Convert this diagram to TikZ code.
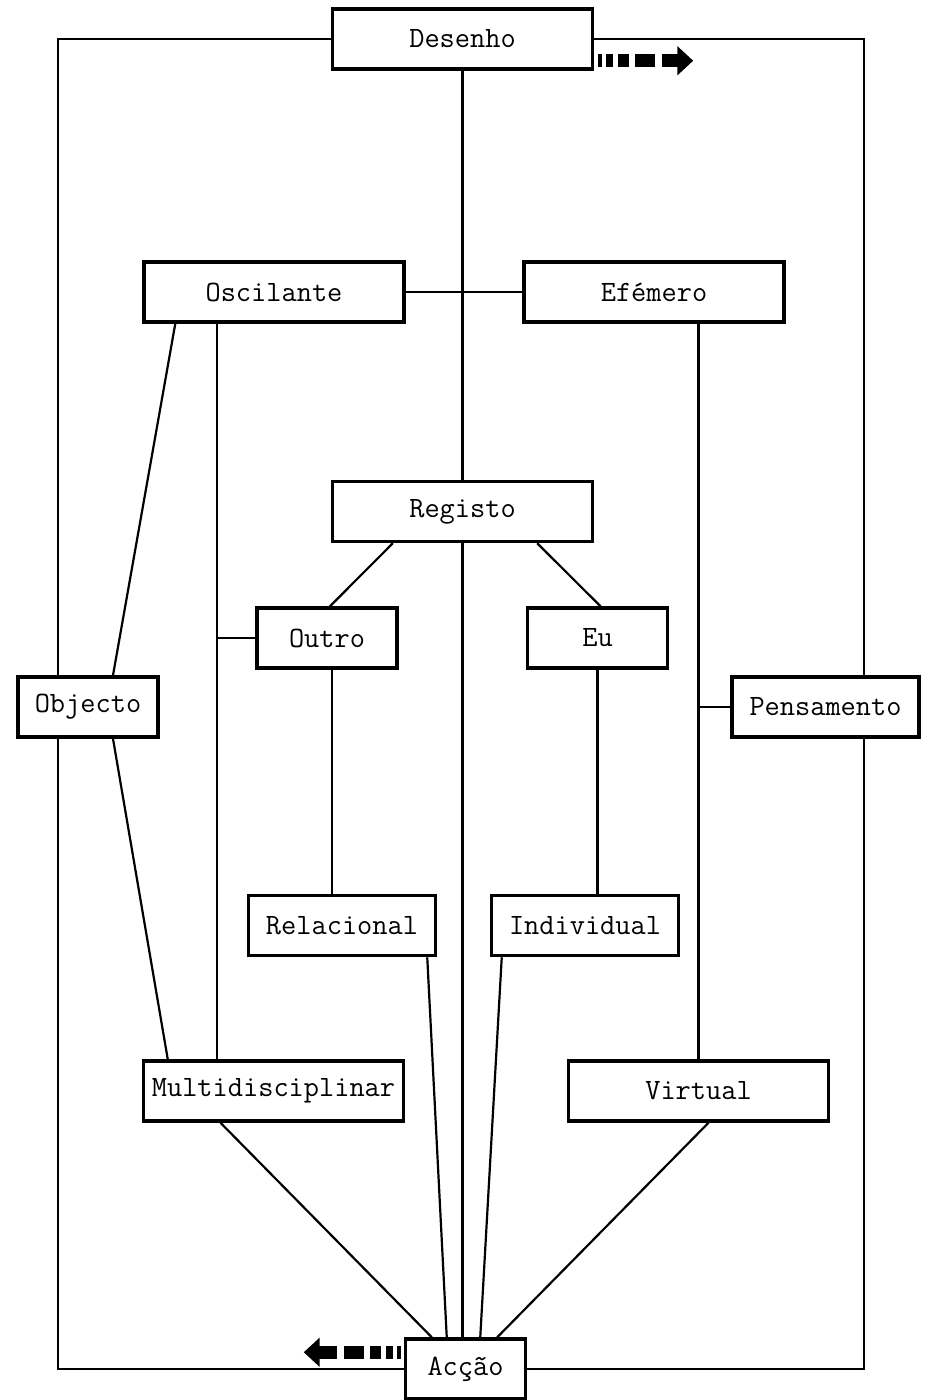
\documentclass[tikz,border=0pt]{standalone}
\usepackage{fontspec}
\usetikzlibrary{positioning,arrows.meta,calc,backgrounds}

\begin{document}
\begin{tikzpicture}[x=0.02cm, y=-0.02cm,
    font=\ttfamily\fontsize{16.8}{20}\selectfont,
    box/.style={draw, line width=2pt, fill=white, minimum height=1.2cm, inner sep=2pt},
    wide/.style={box, minimum width=5.2cm},
    mid/.style={box, minimum width=3.74cm},
    short/.style={box, minimum width=2.8cm},
    tiny/.style={box, minimum width=2.4cm},
    link/.style={line width=1.25pt},
    flow/.style={line width=7.4pt, -{Triangle[length=9pt, width=16pt]},
                 dash pattern=on 2.3pt off 2.3pt on 4pt off 2.8pt on 6.2pt off 3.4pt on 11.3pt off 4pt on 14pt}]
  \useasboundingbox (0,0) rectangle (932,1400);
  \node[wide] (desenho) at (462.5,39) {Desenho};
  \node[wide] (oscil) at (274,292) {Oscilante};
  \node[wide] (efem) at (654,292) {Efémero};
  \node[wide] (registo) at (462.5,511.5) {Registo};
  \node[short] (outro) at (327,638) {Outro};
  \node[short] (eu) at (597.5,638) {Eu};
  \node[short] (objecto) at (88,707) {Objecto};
  \node[mid] (pens) at (825.5,707) {Pensamento};
  \node[mid] (relac) at (342,925.5) {Relacional};
  \node[mid] (indiv) at (585,925.5) {Individual};
  \node[wide] (multi) at (273.5,1091) {Multidisciplinar};
  \node[wide] (virtual) at (698.5,1091) {Virtual};
  \node[tiny] (accao) at (465.5,1369) {Acção};
  \coordinate (fl) at (58,0);
  \coordinate (fr) at (864,0);
  \coordinate (ov) at ($(oscil.south)+(-57,0)$);
  \begin{scope}[on background layer]
    % outer frame
    \draw[link] (desenho.west) -| (fl |- accao.west) -- (accao.west);
    \draw[link] (desenho.east) -| (fr |- accao.east) -- (accao.east);
    % spine
    \draw[link] (desenho.south) -- (registo.north);
    \draw[link] (registo.south) -- (registo.south |- accao.north);
    \draw[link] (oscil.east) -- (efem.west);
    % left branch
    \draw[link] ($(oscil.south west)+(33,0)$) -- ($(objecto.north)+(25,0)$);
    \draw[link] ($(objecto.south)+(25,0)$) -- ($(multi.north west)+(26,0)$);
    \draw[link] (ov) -- (ov |- multi.north);
    \draw[link] (ov |- outro.west) -- (outro.west);
    % right branch
    \draw[link] (virtual.north) -- (virtual.north |- efem.south);
    \draw[link] (virtual.north |- pens.west) -- (pens.west);
    % under Registo
    \draw[link] ($(registo.south west)+(62,0)$) -- ($(outro.north)+(3,0)$);
    \draw[link] ($(registo.south east)+(-57,0)$) -- ($(eu.north)+(3,0)$);
    \draw[link] ($(outro.south)+(5,0)$) -- ($(relac.north)+(-10,0)$);
    \draw[link] (eu.south) -- (eu.south |- indiv.north);
    % into Acção
    \draw[link] ($(relac.south east)+(-10,0)$) -- ($(accao.north west)+(43,0)$);
    \draw[link] ($(indiv.south west)+(12,0)$) -- ($(accao.north east)+(-47,0)$);
    \draw[link] ($(multi.south)+(-53,0)$) -- ($(accao.north west)+(28,0)$);
    \draw[link] ($(virtual.south)+(10,0)$) -- ($(accao.north east)+(-30,0)$);
  \end{scope}
  % the two flow arrows
  \draw[flow] ($(desenho.south east)+(4,-10)$) -- ++(95,0);
  \draw[flow] ($(accao.north west)+(-3,15)$) -- ++(-97,0);
\end{tikzpicture}
\end{document}
